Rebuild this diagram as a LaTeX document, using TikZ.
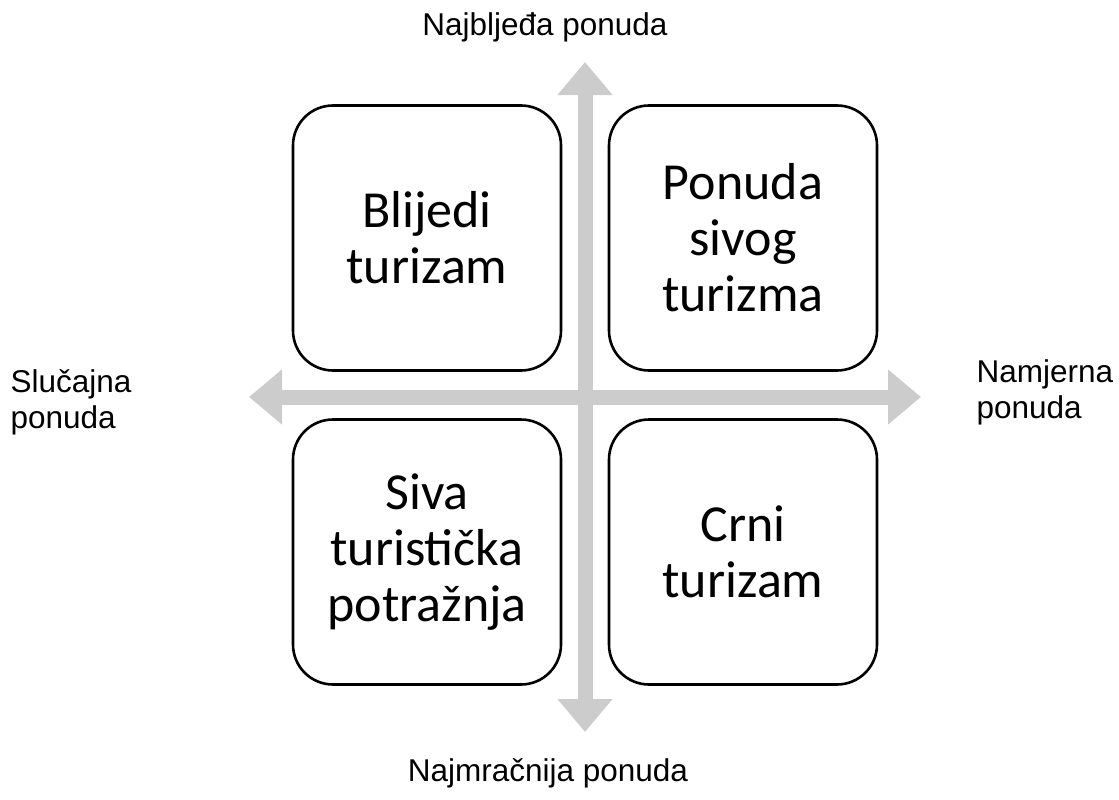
\documentclass[tikz,border=0pt]{standalone}
\usepackage{fontspec}
\setmainfont{Liberation Sans}
\newfontfamily\boxfont{Carlito}
\usetikzlibrary{positioning}
\usetikzlibrary{arrows.meta}
\tikzset{quad/.style={draw=black,line width=2.6pt,rounded corners=40pt,
  minimum width=268pt,minimum height=265pt,align=center,
  font=\boxfont\fontsize{52}{56}\selectfont}}
\tikzset{lbl/.style={font=\fontsize{31.5}{36}\selectfont}}
\tikzset{axis/.style={draw=black!20,line width=15pt,
  {Triangle[width=53pt,length=33pt]}-{Triangle[width=53pt,length=33pt]}}}

\begin{document}
\begin{tikzpicture}[x=1pt,y=-1pt]
\useasboundingbox (0,0) rectangle (1119,800);

% axes
\coordinate (top) at (585,62);
\coordinate (bot) at (585,732);
\coordinate (lft) at (249,397);
\coordinate (rgt) at (921,397);
\draw[axis] (top) -- (bot);
\draw[axis] (lft) -- (rgt);

% quadrants
\node[quad] (bt) at (427,238) {Blijedi\\turizam};
\node[quad] (st) at (743,238) {Ponuda\\sivog\\turizma};
\node[quad] (sp) at (427,552) {Siva\\turistička\\potražnja};
\node[quad] (ct) at (743,552) {Crni\\turizam};

% axis labels
\node[lbl] (nb) at (545,27) {Najbljeđa ponuda};
\node[lbl] (nm) at (548,773) {Najmračnija ponuda};
\node[lbl,anchor=west,align=left] (sl) at (7,402) {Slučajna\\ponuda};
\node[lbl,anchor=west,align=left] (na) at (973,392) {Namjerna\\ponuda};

\end{tikzpicture}
\end{document}
